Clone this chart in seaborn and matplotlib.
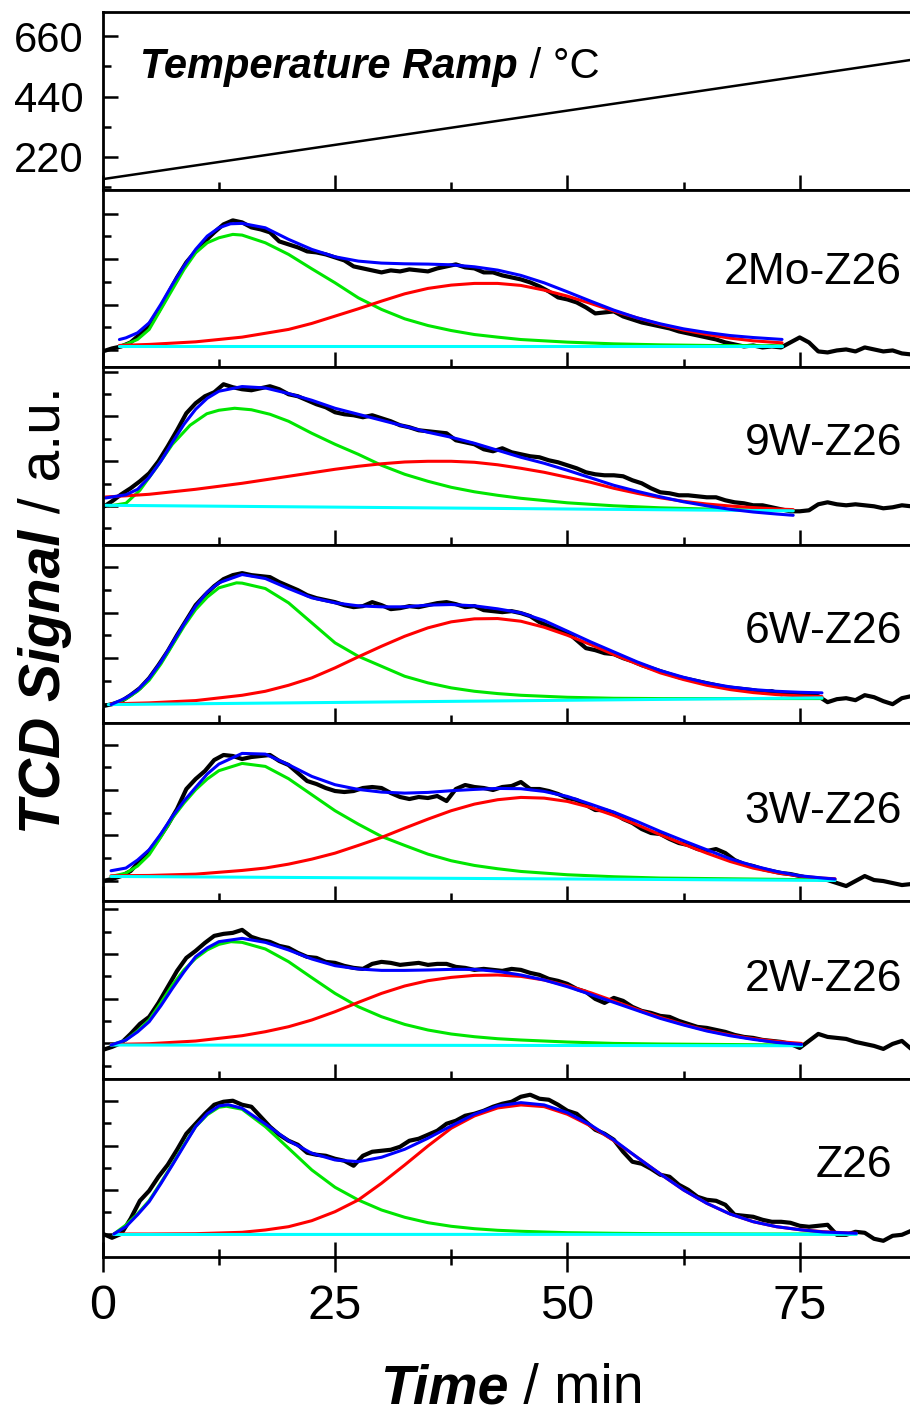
import matplotlib
matplotlib.use("Agg")
import matplotlib.pyplot as plt
import seaborn as sns
from matplotlib.ticker import FixedLocator, MultipleLocator, NullFormatter

sns.set_theme(style="ticks")
plt.rcParams["font.family"] = ["Liberation Sans", "DejaVu Sans"]

# ---------------- data ----------------
TIME_MIN = list(range(88))

TEMP_T = [0, 86.9]
TEMP_C = [139, 573]

SAMPLES = ["2Mo-Z26", "9W-Z26", "6W-Z26", "3W-Z26", "2W-Z26", "Z26"]

# measured TCD signal (a.u.), one value per minute
SIG_2MO = [16, 19, 21, 25, 33, 43, 56, 73, 90, 105, 116, 126, 135, 143, 147, 145, 140, 138, 135, 126,
           123, 120, 116, 115, 113, 110, 107, 101, 99, 97, 95, 97, 96, 98, 97, 96, 99, 101, 103, 100,
           99, 95, 95, 92, 90, 88, 85, 81, 76, 70, 68, 65, 60, 54, 55, 56, 51, 48, 45, 43,
           41, 39, 36, 34, 32, 30, 28, 25, 23, 21, 22, 20, 21, 20, 25, 30, 25, 16, 15, 17,
           18, 16, 20, 18, 16, 17, 14, 13]
SIG_9W = [38, 44, 51, 57, 64, 72, 84, 99, 115, 132, 142, 149, 153, 161, 158, 156, 155, 157, 159, 156,
          151, 149, 145, 141, 138, 133, 131, 130, 128, 130, 127, 124, 120, 118, 115, 114, 113, 112, 105, 103,
          101, 96, 94, 97, 93, 91, 89, 88, 85, 83, 80, 77, 73, 71, 70, 70, 69, 65, 62, 57,
          53, 52, 50, 50, 49, 48, 48, 45, 43, 42, 40, 40, 38, 36, 34, 34, 35, 41, 43, 41,
          40, 41, 40, 39, 37, 38, 40, 39]
SIG_6W = [17, 19, 22, 28, 35, 45, 58, 72, 88, 103, 118, 128, 137, 144, 148, 150, 148, 147, 146, 141,
          137, 133, 128, 125, 123, 121, 118, 116, 117, 121, 118, 114, 115, 117, 116, 118, 120, 121, 119, 116,
          117, 113, 112, 111, 112, 110, 107, 101, 97, 93, 91, 83, 75, 73, 70, 69, 65, 62, 58, 55,
          52, 49, 46, 44, 42, 40, 38, 36, 35, 34, 33, 31, 32, 29, 30, 28, 29, 27, 21, 24,
          25, 23, 28, 26, 22, 19, 25, 27]
SIG_3W = [20, 22, 25, 30, 40, 50, 62, 76, 92, 112, 122, 130, 141, 146, 145, 142, 144, 145, 146, 140,
          136, 128, 120, 117, 113, 110, 109, 110, 113, 114, 113, 108, 104, 102, 104, 103, 105, 100, 112, 116,
          114, 113, 111, 114, 115, 119, 112, 112, 110, 107, 103, 101, 96, 91, 91, 88, 82, 78, 72, 68,
          67, 62, 58, 56, 52, 50, 52, 48, 41, 37, 35, 32, 30, 28, 27, 25, 23, 22, 21, 18,
          15, 20, 25, 21, 20, 18, 16, 17]
SIG_2W = [29, 32, 36, 45, 55, 62, 76, 92, 108, 121, 128, 136, 143, 145, 146, 149, 142, 139, 137, 133,
          131, 126, 122, 121, 117, 116, 113, 111, 110, 115, 117, 116, 114, 115, 116, 114, 115, 115, 112, 111,
          109, 110, 109, 108, 110, 109, 106, 104, 100, 98, 95, 90, 87, 80, 76, 81, 78, 72, 68, 66,
          63, 62, 58, 55, 52, 51, 49, 47, 44, 42, 41, 39, 38, 37, 35, 31, 38, 45, 42, 41,
          40, 37, 35, 33, 30, 35, 38, 30]
SIG_Z26 = [23, 19, 23, 38, 56, 66, 80, 92, 107, 123, 133, 143, 152, 155, 156, 152, 150, 140, 130, 122,
           116, 112, 104, 102, 101, 98, 96, 91, 101, 105, 106, 107, 110, 116, 118, 122, 126, 133, 136, 141,
           143, 146, 150, 153, 155, 160, 162, 158, 157, 152, 146, 143, 135, 127, 123, 117, 105, 95, 93, 88,
           82, 80, 72, 67, 60, 57, 56, 52, 42, 41, 40, 37, 35, 35, 34, 31, 30, 31, 32, 22,
           22, 25, 24, 18, 16, 21, 22, 26]

# fitted curves: (time, value)
FIT_2MO_TOTAL = ([1.8, 2.5, 3.75, 5, 6.25, 7.5, 8.75, 10, 11.25, 12.5, 13.75, 15, 17.5, 20, 22.5, 25, 27.5,
                  30, 32.5, 35, 37.5, 40, 42.5, 45, 47.5, 50, 52.5, 55, 57.5, 60, 62.5, 65, 67.5, 70, 73.1],
                 [27.9, 29.6, 34.6, 44.6, 63, 83, 101.3, 118, 131.3, 139.6, 143.6, 144, 139.6, 128, 118,
                  110.6, 106.3, 104.3, 103.6, 103.3, 102.6, 100.6, 97.3, 92, 84.6, 75.6, 66.3, 57.3, 49.6,
                  43.6, 38.6, 34.9, 31.9, 29.9, 28])
FIT_2MO_P1 = ([1.8, 2.5, 3.75, 5, 6.25, 7.5, 8.75, 10, 11.25, 12.5, 14, 15, 17.5, 20, 22.5, 25, 27.5, 30,
               32.5, 35, 37.5, 40, 42.5, 45, 50, 55, 60, 65, 73.1],
              [21.5, 23, 28, 38, 58, 78, 98, 114.6, 124.6, 129.6, 133, 132.3, 124.6, 113, 98.6, 84.6, 69.6,
               58, 48.6, 41.9, 36.9, 32.9, 30.3, 27.9, 25.3, 23.6, 22.6, 22, 21.6])
FIT_2MO_P2 = ([1.8, 5, 10, 15, 20, 22.5, 25, 27.5, 30, 32.5, 35, 37.5, 40, 42.5, 45, 47.5, 50, 52.5, 55, 57.5,
               60, 62.5, 65, 67.5, 70, 73.1],
              [22, 23, 25.6, 30.3, 38, 44, 51.3, 58.6, 66.3, 73.6, 79, 82.3, 84, 84, 82, 77.3, 71.3, 64, 56.3,
               49.6, 43, 37.3, 33, 29.3, 26.6, 24.6])
FIT_2MO_BASE = ([1.8, 73.1], [21.5, 21.5])

FIT_9W_TOTAL = ([0.3, 2.5, 3.75, 5, 6.25, 7.5, 8.75, 10, 11.25, 12.5, 15, 17.5, 20, 22.5, 25, 27.5, 30, 32.5,
                 35, 37.5, 40, 42.5, 45, 47.5, 50, 52.5, 55, 57.5, 60, 62.5, 65, 67.5, 70, 72.5, 74.3],
                [47.3, 50.5, 56, 68, 84, 103, 121, 136, 147, 154, 158.7, 157.3, 151.7, 145, 137, 131, 125,
                 119, 113, 108, 102, 95, 88, 82, 75, 67.5, 60, 54, 48.5, 43.5, 39.5, 36, 33.3, 31.3, 30])
FIT_9W_P1 = ([0.8, 2.5, 4, 5.8, 7.5, 9.4, 11.2, 12.5, 14.2, 16, 18, 20, 22.5, 25, 27.5, 30, 32.5, 35, 37.5,
              40, 42.5, 45, 50, 55, 60, 65, 70, 74.3],
             [39.5, 42, 55, 78, 101, 120, 131.5, 135, 137, 135.5, 131, 124, 112, 101, 91, 80, 71, 64, 58,
              53.5, 50, 47, 42.5, 39.5, 37.5, 36.3, 35.3, 34.7])
FIT_9W_P2 = ([0.3, 2.5, 5, 7.5, 10, 12.5, 15, 17.5, 20, 22.5, 25, 27.5, 30, 32.5, 35, 37.5, 40, 42.5, 45,
              47.5, 50, 52.5, 55, 57.5, 60, 62.5, 65, 67.5, 70, 72.5, 74.3],
             [48.3, 49.5, 51, 53.5, 56, 59, 62, 65.5, 69, 72.5, 76, 79, 81.5, 83.3, 84, 84, 83, 80.5, 77,
              73, 68, 63, 57, 52, 47.5, 44, 41.3, 39.3, 37.7, 36.3, 35.7])
FIT_9W_BASE = ([0.3, 74.3], [40, 34.5])

FIT_6W_TOTAL = ([0.9, 2.5, 3.75, 5, 6.25, 7.5, 8.75, 10, 11.25, 12.5, 15, 17.5, 20, 22.5, 25, 27.5, 30, 32.5,
                 35, 37.5, 40, 42.5, 45, 47.5, 50, 52.5, 55, 57.5, 60, 62.5, 65, 67.5, 70, 72.5, 75, 77.4],
                [18.6, 25.3, 33, 45, 61, 80, 99, 116.9, 131, 140.3, 148.6, 144.6, 134.6, 125.3, 120.3, 117.3,
                 116.3, 116.3, 118, 118.6, 117.3, 114.3, 110.3, 102.6, 92, 81.3, 71.3, 61.3, 52.6, 45.9, 40.3,
                 36.3, 33.6, 31.9, 30.9, 30.3])
FIT_6W_P1 = ([0.9, 2.5, 3.75, 5, 6.25, 7.5, 8.75, 10, 11.25, 12.5, 14.4, 15, 17.5, 20, 22.5, 25, 27.5, 30,
              32.5, 35, 37.5, 40, 42.5, 45, 50, 55, 60, 70, 77.4],
             [18.6, 24.3, 32, 43, 59, 78, 97, 113.6, 126, 135.3, 140.3, 140, 134.6, 120.3, 100.3, 80.3, 66.9,
              56.9, 46.9, 40.3, 35.3, 31.9, 29.6, 27.9, 25.9, 24.9, 24.6, 24.6, 24.6])
FIT_6W_P2 = ([0.9, 5, 10, 15, 17.5, 20, 22.5, 25, 27.5, 30, 32.5, 35, 37.5, 40, 42.5, 45, 47.5, 50, 52.5, 55,
              57.5, 60, 62.5, 65, 67.5, 70, 72.5, 75, 77.4],
             [19.3, 20.3, 22.6, 27.9, 31.9, 37.9, 45.3, 55.3, 66.3, 76.9, 86.9, 95.3, 101.3, 104.3, 104.6,
              101.9, 95.9, 87.9, 78.6, 68.6, 59.3, 50.3, 43.6, 37.9, 33.6, 30.6, 28.6, 27.3, 26.6])
FIT_6W_BASE = ([0.6, 77.4], [18.6, 25.3])

FIT_3W_TOTAL = ([0.9, 2.5, 3.75, 5, 6.25, 7.5, 8.75, 10, 11.25, 12.5, 15, 17.5, 20, 22.5, 25, 27.5, 30, 32.5,
                 35, 37.5, 40, 42.5, 45, 47.5, 50, 52.5, 55, 57.5, 60, 62.5, 65, 67.5, 70, 72.5, 75, 77.5,
                 78.8],
                [30.3, 33, 41, 51.3, 67, 84.6, 100, 113.6, 127, 136.9, 147.6, 146.9, 136.3, 124.6, 116.3,
                 111.6, 108.9, 107.9, 108.6, 110.3, 111.6, 112.6, 112.3, 109.6, 104.6, 96.9, 88.9, 79.6, 69.6,
                 60.3, 51.3, 42.3, 35.3, 29.6, 25.3, 23, 22])
FIT_3W_P1 = ([0.9, 2.5, 3.75, 5, 6.25, 7.5, 8.75, 10, 11.25, 12.5, 15, 17.5, 20, 22.5, 25, 27.5, 30, 32.5, 35,
              37.5, 40, 42.5, 45, 50, 55, 60, 70, 78.8],
             [24.6, 27.9, 35, 46.3, 64, 82.9, 98, 111.3, 122, 130.3, 137.6, 134.6, 122.3, 106.3, 90.3, 76.9,
              64.6, 55.6, 46.9, 40.3, 35.6, 32.3, 29.6, 26.3, 24.3, 23, 22, 21])
FIT_3W_P2 = ([0.9, 5, 10, 15, 17.5, 20, 22.5, 25, 27.5, 30, 32.5, 35, 37.5, 40, 42.5, 45, 47.5, 50, 52.5, 55,
              57.5, 60, 62.5, 65, 67.5, 70, 72.5, 75, 77.5, 78.8],
             [25.3, 25.6, 26.9, 30.6, 33, 36.9, 41.9, 47.9, 55.6, 63.6, 72.9, 81.9, 90.3, 96.9, 101.3, 103.6,
              102.9, 99.6, 93.6, 85.6, 76.3, 66.3, 56.9, 47.9, 39.6, 32.9, 28.3, 24.9, 22.9, 22.3])
FIT_3W_BASE = ([0.9, 78.8], [24.6, 20.6])

FIT_2W_TOTAL = ([0.9, 2.5, 3.75, 5, 6.25, 7.5, 8.75, 10, 11.25, 12.5, 15, 17.5, 20, 22.5, 25, 27.5, 30, 32.5,
                 35, 37.5, 40, 42.5, 45, 47.5, 50, 52.5, 55, 57.5, 60, 62.5, 65, 67.5, 70, 72.5, 75.2],
                [33.9, 38.9, 47, 57.2, 73, 90.5, 107, 122.2, 131, 137.2, 140.5, 136.5, 128.9, 119.9, 113.2,
                 109.9, 108.5, 108.5, 108.9, 109.5, 109.5, 107.5, 103.9, 98.9, 92.2, 84.5, 76.5, 68.5, 60.5,
                 53.9, 47.9, 43.2, 39.5, 36.5, 34.5])
FIT_2W_P1 = ([0.9, 2.5, 3.75, 5, 6.25, 7.5, 8.75, 10, 11.25, 12.5, 13.8, 15, 17.5, 20, 22.5, 25, 27.5, 30,
              32.5, 35, 37.5, 40, 42.5, 45, 50, 55, 60, 70, 75.2],
             [33.9, 38.9, 48, 58.9, 76, 93.9, 109, 120.5, 129, 134.5, 137.2, 136.5, 129.9, 117.2, 101.2, 85.5,
              72.2, 62.2, 54.5, 48.9, 44.9, 42.2, 40.2, 38.9, 36.9, 35.5, 34.9, 34.2, 33.9])
FIT_2W_P2 = ([0.9, 5, 10, 15, 17.5, 20, 22.5, 25, 27.5, 30, 32.5, 35, 37.5, 40, 42.5, 45, 47.5, 50, 52.5, 55,
              57.5, 60, 62.5, 65, 67.5, 70, 72.5, 75.2],
             [34.5, 35.2, 37.9, 43.2, 47.2, 52.2, 58.9, 67.2, 76.5, 85.5, 92.9, 98.2, 101.5, 103.5, 103.9,
              102.5, 98.9, 93.2, 86.2, 77.9, 69.5, 61.5, 54.5, 48.5, 43.9, 40.2, 37.5, 35.5])
FIT_2W_BASE = ([0.9, 75.2], [33.9, 33.2])

FIT_Z26_TOTAL = ([1.2, 2.5, 3.75, 5, 6.25, 7.5, 8.75, 10, 11.25, 12.5, 13.5, 15, 17.5, 20, 22.5, 25, 27.5, 30,
                  32.5, 35, 37.5, 40, 42.5, 45, 47.5, 50, 52.5, 55, 57.5, 60, 62.5, 65, 67.5, 70, 72.5, 75,
                  77.5, 81.1],
                 [22.8, 30.1, 42, 55.1, 73, 91.8, 111, 130.1, 143, 150.8, 152, 148.5, 132.8, 116.1, 103.5,
                  96.8, 95.1, 99.5, 107.5, 118.5, 130.8, 142.5, 150.8, 154.1, 151.8, 144.1, 131.8, 116.8, 99.5,
                  82.8, 66.8, 53.5, 42.8, 35.1, 30.1, 27.1, 24.8, 23.5])
FIT_Z26_P1 = ([1.2, 2.5, 3.75, 5, 6.25, 7.5, 8.75, 10, 11.25, 12.5, 13.3, 15, 17.5, 20, 22.5, 25, 27.5, 30,
               32.5, 35, 37.5, 40, 42.5, 45, 50, 55, 60, 70, 81.1],
              [22.8, 31.8, 43, 56.1, 74, 92.5, 112, 130.1, 142, 149.5, 150.5, 147.5, 130.1, 108.5, 86.8, 69.5,
               56.8, 46.8, 39.5, 34.1, 30.5, 28.1, 26.5, 25.5, 24.1, 23.5, 23.1, 22.8, 22.8])
FIT_Z26_P2 = ([1.2, 5, 10, 15, 17.5, 20, 22.5, 25, 27.5, 30, 32.5, 35, 37.5, 40, 42.5, 45, 47.5, 50, 52.5, 55,
               57.5, 60, 62.5, 65, 67.5, 70, 72.5, 75, 77.5, 81.1],
              [22.8, 22.8, 23.1, 24.5, 26.8, 30.1, 36.1, 45.1, 56.8, 73.5, 91.8, 110.8, 128.5, 140.8, 148.8,
               151.8, 150.1, 142.5, 130.8, 116.1, 99.5, 82.8, 66.8, 53.5, 42.8, 35.1, 30.1, 27.1, 25.1, 23.5])
FIT_Z26_BASE = ([1.2, 81.1], [22.3, 22.5])

SIGNALS = [SIG_2MO, SIG_9W, SIG_6W, SIG_3W, SIG_2W, SIG_Z26]
TOTALS = [FIT_2MO_TOTAL, FIT_9W_TOTAL, FIT_6W_TOTAL, FIT_3W_TOTAL, FIT_2W_TOTAL, FIT_Z26_TOTAL]
PEAK1 = [FIT_2MO_P1, FIT_9W_P1, FIT_6W_P1, FIT_3W_P1, FIT_2W_P1, FIT_Z26_P1]
PEAK2 = [FIT_2MO_P2, FIT_9W_P2, FIT_6W_P2, FIT_3W_P2, FIT_2W_P2, FIT_Z26_P2]
BASES = [FIT_2MO_BASE, FIT_9W_BASE, FIT_6W_BASE, FIT_3W_BASE, FIT_2W_BASE, FIT_Z26_BASE]

# ---------------- layout / style ----------------
W_PX, H_PX = 910, 1416
LABEL_POS = [(86.0, 83.9), (86.0, 90.7), (86.0, 80.3), (86.0, 77.9), (86.0, 87.9), (85.0, 80.1)]
TICK_START = [17.5, 39.3, 19.4, 20.2, 35.7, 22.3]
TICK_STEP = [22.7, 22.4, 22.8, 22.7, 22.3, 22.2]
C_SIG, C_P1, C_P2, C_BASE, C_TOT = "black", "#00E600", "#FF0000", "#00FFFF", "#0000FF"

fig = plt.figure(figsize=(W_PX / 100, H_PX / 100), dpi=100)
axes = fig.subplots(7, 1, sharex=True)
fig.subplots_adjust(left=102.7 / W_PX, right=1.0, top=1 - 11.7 / H_PX,
                    bottom=1 - 1256.8 / H_PX, hspace=0)

SP_W = 2.0
for ax in axes:
    for side in ["left", "top", "bottom"]:
        ax.spines[side].set_linewidth(SP_W)
        ax.spines[side].set_color("black")
    ax.spines["right"].set_visible(False)
    ax.set_facecolor("white")
    ax.tick_params(axis="x", which="both", direction="in", top=False, bottom=True,
                   width=1.8, color="black")
    ax.tick_params(axis="x", which="major", length=10.8)
    ax.tick_params(axis="x", which="minor", length=5.5)
    ax.tick_params(axis="y", which="both", direction="in", left=True, right=False,
                   width=1.8, color="black")
    ax.tick_params(axis="y", which="major", length=11)
    ax.tick_params(axis="y", which="minor", length=5.8)

# temperature panel
ax0 = axes[0]
sns.lineplot(x=TEMP_T, y=TEMP_C, ax=ax0, color="black", linewidth=1.8, estimator=None, sort=False)
ax0.set_ylim(101, 749)
ax0.yaxis.set_major_locator(FixedLocator([220, 440, 660]))
ax0.yaxis.set_minor_locator(FixedLocator([110, 330, 550]))
ax0.tick_params(axis="y", which="major", labelsize=30, pad=14, labelcolor="black")
ax0.set_ylabel("")

# signal panels
for i, ax in enumerate(axes[1:]):
    sns.lineplot(x=TIME_MIN, y=SIGNALS[i], ax=ax, color=C_SIG, linewidth=3.0,
                 estimator=None, sort=False)
    sns.lineplot(x=PEAK1[i][0], y=PEAK1[i][1], ax=ax, color=C_P1, linewidth=2.2,
                 estimator=None, sort=False)
    sns.lineplot(x=PEAK2[i][0], y=PEAK2[i][1], ax=ax, color=C_P2, linewidth=2.2,
                 estimator=None, sort=False)
    sns.lineplot(x=BASES[i][0], y=BASES[i][1], ax=ax, color=C_BASE, linewidth=2.2,
                 estimator=None, sort=False)
    sns.lineplot(x=TOTALS[i][0], y=TOTALS[i][1], ax=ax, color=C_TOT, linewidth=2.2,
                 estimator=None, sort=False)
    ax.set_ylim(0, 177.8)
    s, d = TICK_START[i], TICK_STEP[i]
    majors = [s + 2 * k * d for k in range(-2, 6) if 1 < s + 2 * k * d < 176]
    minors = [s + (2 * k + 1) * d for k in range(-2, 6) if 1 < s + (2 * k + 1) * d < 176]
    ax.yaxis.set_major_locator(FixedLocator(majors))
    ax.yaxis.set_minor_locator(FixedLocator(minors))
    ax.yaxis.set_major_formatter(NullFormatter())
    ax.set_ylabel("")
    lx, ly = LABEL_POS[i]
    ax.text(lx, ly, SAMPLES[i], ha="right", va="baseline", fontsize=32, color="black")

for ax in axes:
    ax.set_xlim(0, 86.87)
    ax.xaxis.set_major_locator(MultipleLocator(25))
    ax.xaxis.set_minor_locator(MultipleLocator(12.5))
    ax.set_xlabel("")

axb = axes[-1]
axb.tick_params(axis="x", which="both", direction="inout")
axb.tick_params(axis="x", which="major", length=21.6, labelsize=35, pad=9, labelcolor="black")
axb.tick_params(axis="x", which="minor", length=11)
for ax in axes[:-1]:
    ax.tick_params(axis="x", labelbottom=False)


# ---------------- mixed-style labels ----------------
def rich_text(parts, x_px, y_px, size, rotation=0, align="left"):
    texts = []
    for s, emph in parts:
        kw = dict(fontsize=size, color="black", ha="left", va="baseline",
                  fontweight="bold" if emph else "normal",
                  fontstyle="italic" if emph else "normal")
        if rotation:
            kw.update(rotation=90, rotation_mode="anchor")
        texts.append(fig.text(0, 0, s, **kw))
    r = fig.canvas.get_renderer()
    sizes = []
    for t in texts:
        bb = t.get_window_extent(r)
        sizes.append(bb.height if rotation else bb.width)
    total = sum(sizes)
    cum = 0.0
    for t, sz in zip(texts, sizes):
        if rotation:
            y0 = (y_px + total / 2) if align == "center" else y_px
            t.set_position((x_px / W_PX, 1 - (y0 - cum) / H_PX))
        else:
            x0 = (x_px - total / 2) if align == "center" else x_px
            t.set_position(((x0 + cum) / W_PX, 1 - y_px / H_PX))
        cum += sz


rich_text([("Temperature Ramp", True), (" / °C", False)], 140, 78.3, 30)
rich_text([("Time", True), (" / min", False)], 512, 1403, 40, align="center")
rich_text([("TCD Signal", True), (" / a.u.", False)], 60, 610, 41, rotation=90, align="center")

fig.savefig("out.png", dpi=100)
